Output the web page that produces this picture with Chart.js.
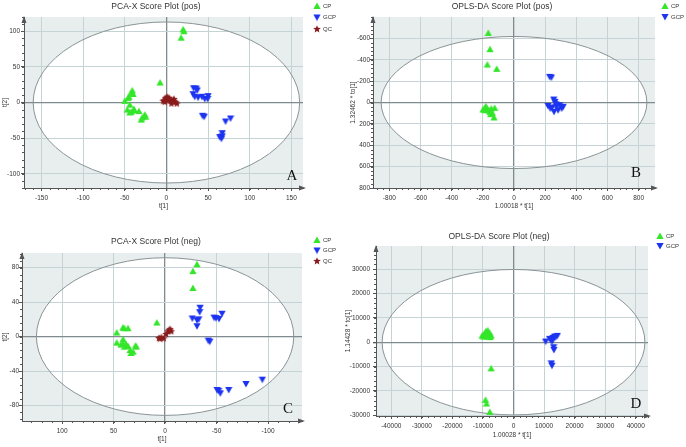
<!DOCTYPE html>
<html lang="pt-BR">
<head>
  <meta charset="UTF-8">
  <title>Score Plots - PCA-X / OPLS-DA</title>
  <script src="https://cdn.jsdelivr.net/npm/chart.js"></script>
  <style>
    body { margin: 0; background: #fff; }
    canvas { position: absolute; }
  </style>
</head>
<body>
  <canvas id="graficoA" width="343" height="224" style="left:0;top:0"></canvas>
  <canvas id="graficoB" width="343" height="224" style="left:343px;top:0"></canvas>
  <canvas id="graficoC" width="343" height="223" style="left:0;top:224px"></canvas>
  <canvas id="graficoD" width="343" height="223" style="left:343px;top:224px"></canvas>

  <script>
    // ---- dados ----
    // A: PCA-X (pos)
    const pcaPosCP = [[20,102.6],[21,100],[17.7,91],[-7.6,28],[-41,17],[-42,14],[-40,12],[-45,8],[-46,6.5],[-50,2.3],[-44,-3],[-47,-10],[-44,-14],[-39,-9],[-39,-11],[-33,-12],[-26,-17],[-25,-20],[-30,-24],[-29,-21],[-42,-13]];
    const pcaPosGCP = [[32.6,20],[35.8,19.6],[37,17],[32,11.7],[34,8],[38,7],[42.6,8],[46,5],[50,9],[49.5,5],[43.4,-18.6],[45.4,-20],[71,-26.6],[77,-22.4],[67,-47.5],[64,-48.5],[66,-50.8],[67,-43]];
    const pcaPosQC = [[-3,3],[-1,6.5],[1,8],[3,6.5],[5,3],[7,3],[9,5],[11,1],[12.5,-1.4],[6,-1.4],[2,3],[-2,1],[-3.6,2.3],[8.5,1]];
    const ticksAX = [-150, -100, -50, 0, 50, 100, 150];
    const ticksAY = [-100, -50, 0, 50, 100];
    const elipseA = [160, 113];

    // B: OPLS-DA (pos)
    const oplsPosCP = [[-165,-651],[-154,-499],[-171,-355],[-111,-315],[-199,65],[-178,47],[-163,72],[-146,56],[-124,50],[-139,97],[-128,140],[-188,72],[-156,87],[-173,59],[-150,109],[-182,34]];
    const oplsPosGCP = [[240,-234],[229,-240],[255,-28],[263,-6],[218,31],[244,47],[272,40],[293,25],[306,56],[257,87],[283,72],[233,56],[315,40],[268,16]];
    const ticksBX = [-800, -600, -400, -200, 0, 200, 400, 600, 800];
    const ticksBY = [-600, -400, -200, 0, 200, 400, 600, 800];
    const elipseB = [853, 618];

    // C: PCA-X (neg)
    const pcaNegCP = [[-31,84],[-27,76],[-27,56.4],[8,16.3],[47,4.7],[41,10.5],[39.5,9.7],[36,9.7],[40.8,-3],[47,-7],[43,-9.3],[39.5,-11.7],[36,-11],[34,-15.6],[33,-19],[31,-17.5],[28.8,-10.5],[28,-11.7],[40.8,-7.8],[38,-8.6]];
    const pcaNegGCP = [[-34,33.5],[-33.6,28.4],[-26.5,21],[-31,19],[-32.7,20],[-31,12],[-47.6,22],[-49.5,21.4],[-52.4,20.6],[-55.3,26.5],[-42,-4.7],[-43.4,-5.8],[-52,-63],[-53.7,-65.8],[-61.8,-62],[-78.6,-55],[-94.5,-50],[-50.5,-62]];
    const pcaNegQC = [[5,-2.3],[3.6,-0.8],[1.3,-2],[-1,3],[-3,6.2],[-5,8.6],[-6,6.2],[-4,7.8],[6,-1.6]];
    const ticksCX = [100, 50, 0, -50, -100];
    const ticksCY = [-80, -40, 0, 40, 80];
    const elipseC = [125, 91.5];

    // D: OPLS-DA (neg)
    const oplsNegCP = [[-10270,2750],[-9500,3440],[-8960,4540],[-8400,4820],[-7870,3850],[-7320,2750],[-8740,2340],[-9180,4000],[-8200,3440],[-9840,2340],[-7650,2060],[-9290,3160],[-7320,-10730],[-9180,-23670],[-8850,-25180],[-7760,-28620]];
    const oplsNegGCP = [[10490,275],[11800,1376],[12350,690],[12900,1790],[13440,2340],[14320,2610],[12680,413],[13110,-2060],[13220,-3160],[12350,-8670],[12570,-9630],[13770,2060]];
    const ticksDX = [-40000, -30000, -20000, -10000, 0, 10000, 20000, 30000, 40000];
    const ticksDY = [-30000, -20000, -10000, 0, 10000, 20000, 30000];
    const elipseD = [43000, 29860];

    // ---- estilos ----
    const FONTE = '"Liberation Sans", Arial, sans-serif';
    const COR_TEXTO = '#333';
    const VERDE = '#33e62a';
    const AZUL = '#1c34f0';
    const VERMELHO = '#8b1c1c';

    // marcadores desenhados em canvas (triângulo, triângulo invertido, estrela)
    function marcador(tipo, cor) {
      const c = document.createElement('canvas');
      c.width = 8; c.height = 8;
      const g = c.getContext('2d');
      g.fillStyle = cor;
      g.beginPath();
      if (tipo === 'cima') {
        g.moveTo(4, 0.5); g.lineTo(7.6, 7); g.lineTo(0.4, 7);
      } else if (tipo === 'baixo') {
        g.moveTo(0.4, 1); g.lineTo(7.6, 1); g.lineTo(4, 7.5);
      } else {
        for (let i = 0; i < 10; i++) {
          const r = i % 2 === 0 ? 4 : 1.8;
          const ang = -Math.PI / 2 + i * Math.PI / 5;
          g.lineTo(4 + r * Math.cos(ang), 4.3 + r * Math.sin(ang));
        }
      }
      g.closePath();
      g.fill();
      return c;
    }

    const mkCP = marcador('cima', VERDE);
    const mkGCP = marcador('baixo', AZUL);
    const mkQC = marcador('estrela', VERMELHO);

    function serie(label, pontos, img) {
      return {
        label: label,
        data: pontos.map(p => ({ x: p[0], y: p[1] })),
        pointStyle: img,
        pointRadius: 4,
        backgroundColor: 'transparent',
        borderColor: 'transparent'
      };
    }

    // fundo cinza, elipse, setas, ticks menores, titulo e legenda
    const molduraPlugin = {
      id: 'moldura',
      beforeDraw(chart, args, o) {
        const { ctx, chartArea: a, scales: { x, y } } = chart;
        ctx.save();
        ctx.fillStyle = '#e8eded';
        ctx.fillRect(a.left, a.top, a.right - a.left, a.bottom - a.top);
        const cx = x.getPixelForValue(0), cy = y.getPixelForValue(0);
        const rx = Math.abs(x.getPixelForValue(o.elipse[0]) - cx);
        const ry = Math.abs(y.getPixelForValue(o.elipse[1]) - cy);
        ctx.beginPath();
        ctx.rect(a.left, a.top, a.right - a.left, a.bottom - a.top);
        ctx.clip();
        ctx.beginPath();
        ctx.ellipse(cx, cy, rx, ry, 0, 0, Math.PI * 2);
        ctx.fillStyle = '#fff';
        ctx.fill();
        ctx.restore();
      },
      beforeDatasetsDraw(chart, args, o) {
        const { ctx, chartArea: a, scales: { x, y } } = chart;
        ctx.save();
        const cx = x.getPixelForValue(0), cy = y.getPixelForValue(0);
        const rx = Math.abs(x.getPixelForValue(o.elipse[0]) - cx);
        const ry = Math.abs(y.getPixelForValue(o.elipse[1]) - cy);
        ctx.beginPath();
        ctx.ellipse(cx, cy, rx, ry, 0, 0, Math.PI * 2);
        ctx.strokeStyle = '#8a9496';
        ctx.lineWidth = 1;
        ctx.stroke();

        // ticks menores
        ctx.strokeStyle = '#555';
        ctx.lineWidth = 1;
        ctx.beginPath();
        [[x, true], [y, false]].forEach(([s, horiz]) => {
          const passo = Math.abs(s.ticks[1].value - s.ticks[0].value) / 5;
          for (let v = Math.ceil(s.min / passo) * passo; v <= s.max; v += passo) {
            const p = Math.round(s.getPixelForValue(v)) + 0.5;
            if (horiz) { ctx.moveTo(p, a.bottom); ctx.lineTo(p, a.bottom + 2); }
            else { ctx.moveTo(a.left - 2, p); ctx.lineTo(a.left, p); }
          }
        });
        ctx.stroke();

        // setas dos eixos
        ctx.fillStyle = '#555';
        ctx.beginPath();
        ctx.moveTo(a.right + 3, a.bottom);
        ctx.lineTo(a.right - 4, a.bottom - 2.5);
        ctx.lineTo(a.right - 4, a.bottom + 2.5);
        ctx.closePath();
        ctx.moveTo(a.left, a.top - 1);
        ctx.lineTo(a.left - 2.5, a.top + 6);
        ctx.lineTo(a.left + 2.5, a.top + 6);
        ctx.closePath();
        ctx.fill();

        // letra do painel
        ctx.fillStyle = '#111';
        ctx.font = '15px "Liberation Serif", "Times New Roman", serif';
        ctx.textAlign = 'center';
        ctx.textBaseline = 'middle';
        ctx.fillText(o.letra, o.letraPos[0], o.letraPos[1]);
        ctx.restore();
      },
      afterDraw(chart, args, o) {
        const ctx = chart.ctx;
        ctx.save();
        ctx.fillStyle = COR_TEXTO;
        ctx.font = '8.5px ' + FONTE;
        ctx.textAlign = 'center';
        ctx.textBaseline = 'middle';
        ctx.fillText(o.titulo, o.tituloPos[0], o.tituloPos[1]);

        ctx.font = '6px ' + FONTE;
        ctx.textAlign = 'left';
        chart.data.datasets.forEach((ds, i) => {
          const mx = o.legendaPos[0], my = o.legendaPos[1] + i * o.legendaPasso;
          ctx.drawImage(ds.pointStyle, mx - 4, my - 4);
          ctx.fillText(ds.label, mx + 6, my);
        });
        ctx.restore();
      }
    };

    function eixo(cfg) {
      return {
        type: 'linear',
        min: cfg.min,
        max: cfg.max,
        reverse: !!cfg.reverse,
        afterBuildTicks: scale => { scale.ticks = cfg.ticks.map(v => ({ value: v })); },
        afterFit: scale => {
          if (cfg.largura !== undefined) scale.width = cfg.largura;
          if (cfg.altura !== undefined) scale.height = cfg.altura;
        },
        border: { display: true, color: '#555', width: 1 },
        grid: {
          color: c => (c.tick && c.tick.value === 0) ? '#7f8b8e' : '#c6d3d6',
          lineWidth: c => (c.tick && c.tick.value === 0) ? 1.3 : 1,
          tickColor: '#555',
          tickLength: 3
        },
        ticks: {
          color: COR_TEXTO,
          font: { family: FONTE, size: 6.5 },
          padding: cfg.pad,
          maxRotation: 0,
          autoSkip: false,
          callback: v => String(v)
        },
        title: {
          display: true,
          text: cfg.titulo,
          color: COR_TEXTO,
          font: { family: FONTE, size: 6.5 },
          padding: cfg.tituloPad
        }
      };
    }

    function criarGrafico(id, series, p) {
      new Chart(document.getElementById(id), {
        type: 'scatter',
        data: { datasets: series },
        options: {
          responsive: false,
          animation: false,
          events: [],
          layout: { padding: p.padding },
          plugins: {
            legend: { display: false },
            title: { display: false },
            tooltip: { enabled: false },
            moldura: p.moldura
          },
          scales: { x: p.x, y: p.y }
        },
        plugins: [molduraPlugin]
      });
    }

    criarGrafico('graficoA', [
      serie('CP', pcaPosCP, mkCP),
      serie('GCP', pcaPosGCP, mkGCP),
      serie('QC', pcaPosQC, mkQC)
    ], {
      padding: { left: 0, top: 17, right: 40, bottom: 0 },
      x: eixo({ min: -171, max: 164, ticks: ticksAX, altura: 36, pad: 3, titulo: 't[1]', tituloPad: { bottom: 14 } }),
      y: eixo({ min: -120, max: 120, ticks: ticksAY, largura: 24, pad: 1, titulo: 't[2]', tituloPad: { top: 1 } }),
      moldura: { elipse: elipseA, letra: 'A', letraPos: [292, 176], titulo: 'PCA-X Score Plot (pos)', tituloPos: [156, 7], legendaPos: [317, 6], legendaPasso: 11.5 }
    });

    criarGrafico('graficoB', [
      serie('CP', oplsPosCP, mkCP),
      serie('GCP', oplsPosGCP, mkGCP)
    ], {
      padding: { left: 0, top: 17, right: 31, bottom: 0 },
      x: eixo({ min: -905, max: 905, ticks: ticksBX, altura: 36, pad: 3, titulo: '1.00018 * t[1]', tituloPad: { bottom: 14 } }),
      y: eixo({ min: -800, max: 800, reverse: true, ticks: ticksBY, largura: 30, pad: 0, titulo: '1.32462 * to[1]', tituloPad: { top: 6 } }),
      moldura: { elipse: elipseB, letra: 'B', letraPos: [293, 173], titulo: 'OPLS-DA Score Plot (pos)', tituloPos: [159, 7], legendaPos: [322, 6], legendaPasso: 11 }
    });

    criarGrafico('graficoC', [
      serie('CP', pcaNegCP, mkCP),
      serie('GCP', pcaNegGCP, mkGCP),
      serie('QC', pcaNegQC, mkQC)
    ], {
      padding: { left: 0, top: 29, right: 41, bottom: 0 },
      x: eixo({ min: -133, max: 139, reverse: true, ticks: ticksCX, altura: 26, pad: 3, titulo: 't[1]', tituloPad: { bottom: 4 } }),
      y: eixo({ min: -98, max: 97, ticks: ticksCY, largura: 22, pad: 0, titulo: 't[2]', tituloPad: { top: 1 } }),
      moldura: { elipse: elipseC, letra: 'C', letraPos: [288, 185], titulo: 'PCA-X Score Plot (neg)', tituloPos: [156, 18], legendaPos: [317, 16], legendaPasso: 10.5 }
    });

    criarGrafico('graficoD', [
      serie('CP', oplsNegCP, mkCP),
      serie('GCP', oplsNegGCP, mkGCP)
    ], {
      padding: { left: 0, top: 22, right: 38, bottom: 0 },
      x: eixo({ min: -45000, max: 44000, ticks: ticksDX, altura: 31, pad: 3, titulo: '1.00028 * t[1]', tituloPad: { bottom: 8 } }),
      y: eixo({ min: -30300, max: 39500, ticks: ticksDY, largura: 33, pad: 3, titulo: '1.14428 * to[1]', tituloPad: { top: 1 } }),
      moldura: { elipse: elipseD, letra: 'D', letraPos: [293, 180], titulo: 'OPLS-DA Score Plot (neg)', tituloPos: [156, 13], legendaPos: [317, 12], legendaPasso: 10 }
    });
  </script>
</body>
</html>
